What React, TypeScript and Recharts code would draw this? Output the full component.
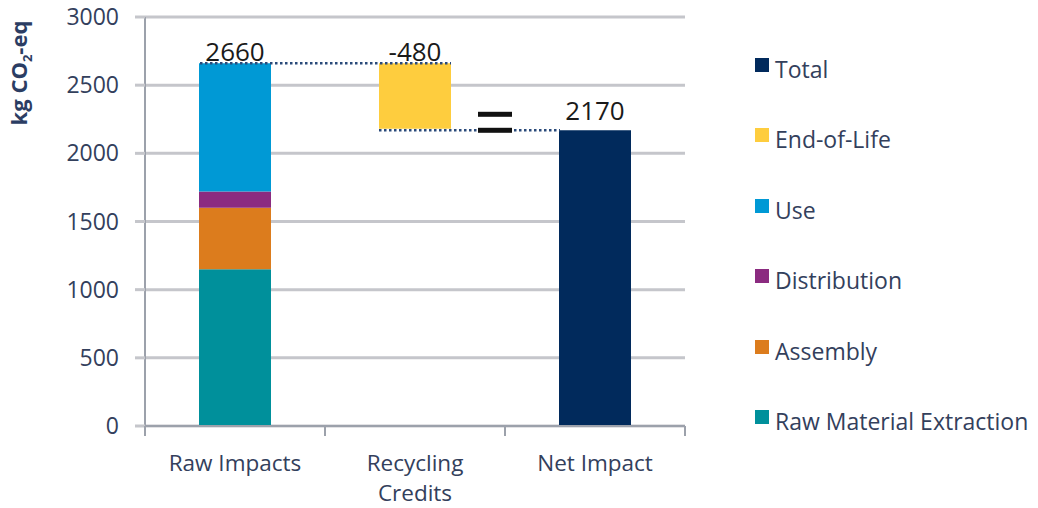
import {
  Bar,
  BarChart,
  CartesianGrid,
  ReferenceDot,
  ReferenceLine,
  XAxis,
  YAxis,
} from "recharts";

const CATEGORIES = ["Raw Impacts", "Recycling Credits", "Net Impact"];
const RAW_MATERIAL = [1150, 0, 0];
const ASSEMBLY = [450, 0, 0];
const DISTRIBUTION = [120, 0, 0];
const USE = [940, 0, 0];
const EOL_BASE = [0, 2180, 0];
const END_OF_LIFE = [0, 480, 0];
const TOTAL = [0, 0, 2170];
const TOP_LABELS = ["2660", "-480", "2170"];
const TOP_VALUES = [2660, 2660, 2170];
const Y_TICKS = [0, 500, 1000, 1500, 2000, 2500, 3000];

const SERIES = [
  { key: "raw", name: "Raw Material Extraction", color: "#00909b" },
  { key: "assembly", name: "Assembly", color: "#dc7c1d" },
  { key: "distribution", name: "Distribution", color: "#8b2b80" },
  { key: "use", name: "Use", color: "#0099d5" },
  { key: "eol", name: "End-of-Life", color: "#fecd3e" },
  { key: "total", name: "Total", color: "#012a5c" },
];

const data = CATEGORIES.map((name, i) => ({
  name,
  base: EOL_BASE[i],
  raw: RAW_MATERIAL[i],
  assembly: ASSEMBLY[i],
  distribution: DISTRIBUTION[i],
  use: USE[i],
  eol: END_OF_LIFE[i],
  total: TOTAL[i],
}));

const TEXT = "#33405c";
const GRID = "#c5c6cb";
const AXIS = "#9ca1ab";
const DOTS = "#2a4a7a";
const FONT = "'Open Sans', sans-serif";
const LABEL_OFFSETS = [2, 2, 10];

function CategoryTick(props: any) {
  const { x, y, payload, index } = props;
  const half = 90;
  const words =
    payload.value === "Recycling Credits" ? ["Recycling", "Credits"] : [payload.value];
  return (
    <g>
      <line x1={x - half} y1={y - 8} x2={x - half} y2={y + 2} stroke={AXIS} strokeWidth={2} />
      {index === CATEGORIES.length - 1 && (
        <line x1={x + half} y1={y - 8} x2={x + half} y2={y + 2} stroke={AXIS} strokeWidth={2} />
      )}
      {words.map((w, i) => (
        <text
          key={w}
          x={x}
          y={y + 37 + i * 30}
          textAnchor="middle"
          fill={TEXT}
          fontSize={22.5}
          fontFamily={FONT}
        >
          {w}
        </text>
      ))}
    </g>
  );
}

function dottedShape(dx1: number, dx2: number) {
  return (p: any) => (
    <line
      x1={p.x1 + dx1}
      y1={p.y1}
      x2={p.x2 + dx2}
      y2={p.y2}
      stroke={DOTS}
      strokeWidth={2.5}
      strokeDasharray="2.5 2.5"
    />
  );
}

function EqualsSign(props: any) {
  const { x, y, width, height, value } = props;
  if (!value) return null;
  const right = x + width;
  const bottom = y + height;
  return (
    <g>
      <rect x={right + 27} y={bottom - 17} width={34} height={5} fill="#111" />
      <rect x={right + 27} y={bottom - 1} width={34} height={5} fill="#111" />
    </g>
  );
}

export default function App() {
  return (
    <div style={{ position: "absolute", left: 0, top: 0, width: 1038, height: 508, background: "#fff" }}>
      <BarChart
        width={1038}
        height={508}
        data={data}
        margin={{ top: 17, right: 353, bottom: 0, left: 0 }}
        barCategoryGap="30%"
      >
        <CartesianGrid vertical={false} stroke={GRID} strokeWidth={3} />
        <XAxis
          dataKey="name"
          height={82}
          axisLine={{ stroke: AXIS, strokeWidth: 2 }}
          tickLine={false}
          tick={<CategoryTick />}
          interval={0}
        />
        <YAxis
          width={145}
          domain={[0, 3000]}
          ticks={Y_TICKS}
          interval={0}
          tickSize={10}
          tickMargin={16}
          axisLine={{ stroke: AXIS, strokeWidth: 2 }}
          tickLine={{ stroke: GRID, strokeWidth: 3 }}
          tick={{ fill: TEXT, fontSize: 23, fontFamily: FONT }}
          label={{
            content: () => (
              <text
                transform="translate(27, 73) rotate(-90)"
                textAnchor="middle"
                fill="#2b3d63"
                fontSize={22}
                fontWeight="bold"
                fontFamily={FONT}
              >
                kg CO
                <tspan fontSize={13} dy={5}>2</tspan>
                <tspan dy={-5}>-eq</tspan>
              </text>
            ),
          }}
        />
        <Bar dataKey="base" stackId="a" fill="transparent" isAnimationActive={false} />
        {SERIES.map((s) => (
          <Bar
            key={s.key}
            dataKey={s.key}
            name={s.name}
            stackId="a"
            fill={s.color}
            isAnimationActive={false}
            label={s.key === "eol" ? <EqualsSign /> : undefined}
          />
        ))}
        <ReferenceLine
          segment={[
            { x: CATEGORIES[0], y: TOP_VALUES[0] },
            { x: CATEGORIES[1], y: TOP_VALUES[0] },
          ]}
          shape={dottedShape(-35, 36)}
        />
        <ReferenceLine
          segment={[
            { x: CATEGORIES[1], y: TOP_VALUES[2] },
            { x: CATEGORIES[2], y: TOP_VALUES[2] },
          ]}
          shape={dottedShape(-36, -35)}
        />
        {CATEGORIES.map((c, i) => (
          <ReferenceDot
            key={c}
            x={c}
            y={TOP_VALUES[i]}
            r={0}
            stroke="none"
            label={{
              value: TOP_LABELS[i],
              position: "top",
              offset: LABEL_OFFSETS[i],
              fill: "#1a1a1a",
              fontSize: 26,
              fontFamily: FONT,
            }}
          />
        ))}
      </BarChart>
      <div style={{ position: "absolute", left: 755, top: 0, fontFamily: FONT }}>
        {[...SERIES].reverse().map((s, i) => (
          <div
            key={s.key}
            style={{
              position: "absolute",
              top: 69 + i * 70.4 - 16,
              height: 32,
              display: "flex",
              alignItems: "center",
              whiteSpace: "nowrap",
            }}
          >
            <span
              style={{ width: 14, height: 14, background: s.color, marginRight: 6, marginTop: -8 }}
            />
            <span style={{ fontSize: 23, color: TEXT }}>{s.name}</span>
          </div>
        ))}
      </div>
    </div>
  );
}
